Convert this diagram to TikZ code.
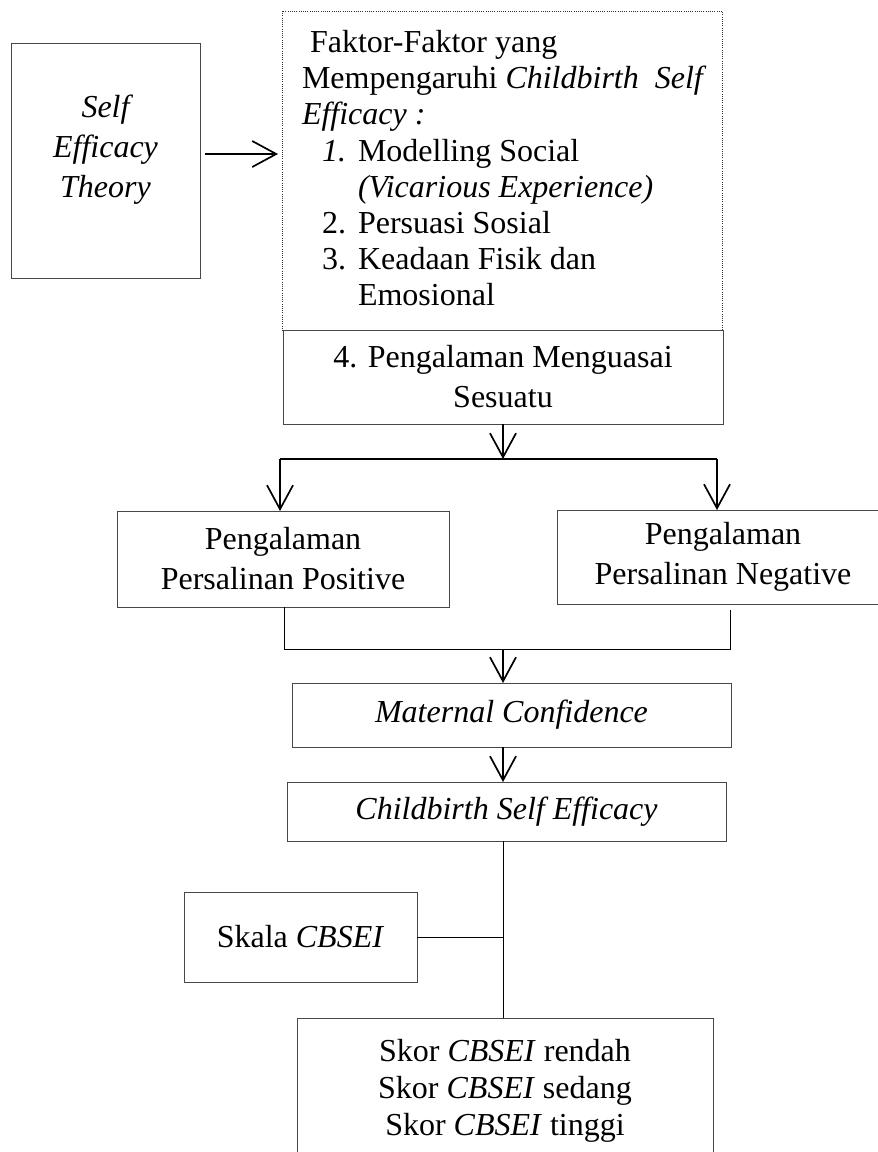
\documentclass[tikz,border=0pt]{standalone}
\usepackage{fontspec}
\setmainfont{Liberation Serif}
\usetikzlibrary{arrows.meta}
\begin{document}
\begin{tikzpicture}[x=1pt,y=-1pt,
  every node/.style={font=\fontsize{32}{40}\selectfont, inner sep=0pt, outer sep=0pt},
  box/.style={draw=black!72, line width=1pt, rectangle, align=center},
  dotbox/.style={draw=black!80, line width=0.9pt, dash pattern=on 1pt off 1.2pt, rectangle},
  conn/.style={draw=black, line width=1pt},
  arr/.style={draw=black, line width=1.7pt, -{Straight Barb[length=24pt,width=26pt,line width=1.7pt]}},
  txt/.style={anchor=base west}
]
\useasboundingbox (0,0) rectangle (878,1152);

% boxes
\node[box, minimum width=189pt, minimum height=235pt] (theory) at (105.5,160.5) {};
\node[align=center] (theorytext) at (105.5,150) {\itshape Self\\\itshape Efficacy\\\itshape Theory};

\node[dotbox, minimum width=440pt, minimum height=319pt] (factors) at (502,170.5) {};
\node[txt] (f1) at (310,52) {Faktor-Faktor yang};
\node[txt] (f2) at (302,88) {Mempengaruhi \textit{Childbirth}\ \ \textit{Self}};
\node[txt] (f3) at (302,124) {\textit{Efficacy :}};
\node[txt] (f4n) at (322,161) {\textit{1.}};
\node[txt] (f4) at (358,161) {Modelling Social};
\node[txt] (f5) at (358,197) {\textit{(Vicarious Experience)}};
\node[txt] (f6n) at (322,233) {2.};
\node[txt] (f6) at (358,233) {Persuasi Sosial};
\node[txt] (f7n) at (322,269) {3.};
\node[txt] (f7) at (358,269) {Keadaan Fisik dan};
\node[txt] (f8) at (358,305) {Emosional};

\node[box, minimum width=440pt, minimum height=94pt] (mastery) at (503,377) {4. Pengalaman Menguasai\\Sesuatu};

\node[box, minimum width=332pt, minimum height=96pt] (positive) at (283,559) {Pengalaman\\Persalinan Positive};
\node[box, minimum width=332pt, minimum height=94pt] (negative) at (723,557) {Pengalaman\\Persalinan Negative};

\node[box, minimum width=439pt, minimum height=64pt] (maternal) at (511.5,715) {\itshape Maternal Confidence};
\node[box, minimum width=439pt, minimum height=59pt] (cbse) at (506.5,811.5) {\itshape Childbirth Self Efficacy};

\node[box, minimum width=233pt, minimum height=90pt] (skala) at (300.5,937) {Skala \textit{CBSEI}};

\node[box, minimum width=416pt, minimum height=150pt] (skor) at (505,1093) {};
\node[align=center, font=\fontsize{32}{37}\selectfont] (skortext) at (505,1091) {Skor \textit{CBSEI} rendah\\Skor \textit{CBSEI} sedang\\Skor \textit{CBSEI} tinggi};

% junction coordinates
\coordinate (j1) at (503,459);
\coordinate (jL) at (280,459);
\coordinate (jR) at (717,459);
\coordinate (kL) at (284,649);
\coordinate (kR) at (730,649);
\coordinate (k) at (503,649);

% connectors
\draw[arr, shorten <=5pt, shorten >=4pt] ([yshift=6.5pt]theory.east) -- ([yshift=6.5pt]theory.east -| factors.west);
\draw[arr] (mastery.south -| j1) -- (j1);
\draw[conn, line width=1.3pt] (jL) -- (jR);
\draw[arr] (jL) -- (positive.north -| jL);
\draw[arr] (jR) -- (negative.north -| jR);
\draw[conn] (positive.south -| kL) -- (kL) -- (kR) -- ([yshift=-6pt]negative.south -| kR);
\draw[arr] (k) -- (maternal.north -| k);
\draw[arr] (maternal.south -| k) -- (cbse.north -| k);
\draw[conn] (cbse.south -| k) -- (skor.north -| k);
\draw[conn] (skala.east) -- (skala.east -| k);
\end{tikzpicture}
\end{document}
